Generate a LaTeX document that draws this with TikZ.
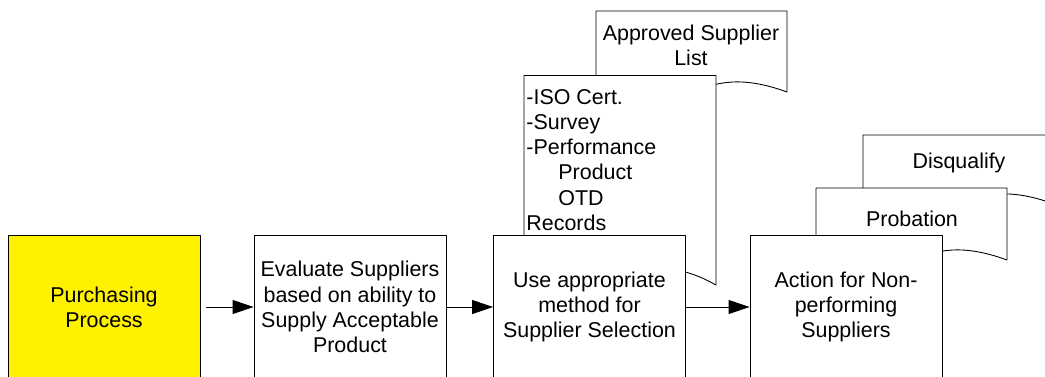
\documentclass[tikz,border=0pt]{standalone}
\usepackage{fontspec}
\setmainfont{Liberation Sans}
\usepackage{tikz}
\usetikzlibrary{positioning,arrows.meta}

\newcommand{\docpage}[5]{%
	\filldraw[fill=white] (#1,#2) -- (#1+#3,#2) -- (#1+#3,#2-#4)
	.. controls (#1+#3/2,#2-#4+#5) and (#1+#3/2,#2-#4-#5) .. (#1,#2-#4) -- cycle;}

\begin{document}
\begin{tikzpicture}[scale=1.0, >={Triangle[length=0.42cm,width=0.28cm]}, line cap=round, line join=round, line width=0.5pt,
	txt/.style={font=\fontsize{12.2}{14.3}\selectfont, inner sep=0pt},
	box/.style={txt, draw, fill=white, minimum width=3.84cm, minimum height=2.88cm, align=center}]
		\useasboundingbox (0,0) rectangle (20.9,-7.52);
		
		\docpage{11.92}{-0.22}{3.82}{1.62}{0.70}
		\node[txt, align=center] (asl) at (13.82,-0.91) {Approved Supplier\\List};
		\docpage{10.48}{-1.51}{3.84}{4.19}{1.08}
		\node[txt, align=left, anchor=west] (iso) at (10.52,-3.20)
			{-ISO Cert.\\-Survey\\-Performance\\\hspace*{0.64cm}Product\\\hspace*{0.64cm}OTD\\Records};
		
		\node[box, fill=yellow] (purch) at (2.08,-6.14) {Purchasing\\Process};
		\node[box] (eval) at (7.00,-6.14) {Evaluate Suppliers\\based on ability to\\Supply Acceptable\\Product};
		\node[box] (select) at (11.79,-6.14) {Use appropriate\\method for\\Supplier Selection};
		
		\docpage{17.26}{-2.70}{3.82}{1.38}{0.70}
		\node[txt] (disq) at (19.18,-3.26) {Disqualify};
		\docpage{16.32}{-3.76}{3.82}{1.44}{0.70}
		\node[txt] (prob) at (18.24,-4.38) {Probation};
		\node[box] (action) at (16.92,-6.14) {Action for Non-\\performing\\Suppliers};
		
		\draw[->, shorten <=0.12cm] (purch) -- (eval);
		\draw[->] (eval) -- (select);
		\draw[->] (select) -- (action);
	\end{tikzpicture}
\end{document}
